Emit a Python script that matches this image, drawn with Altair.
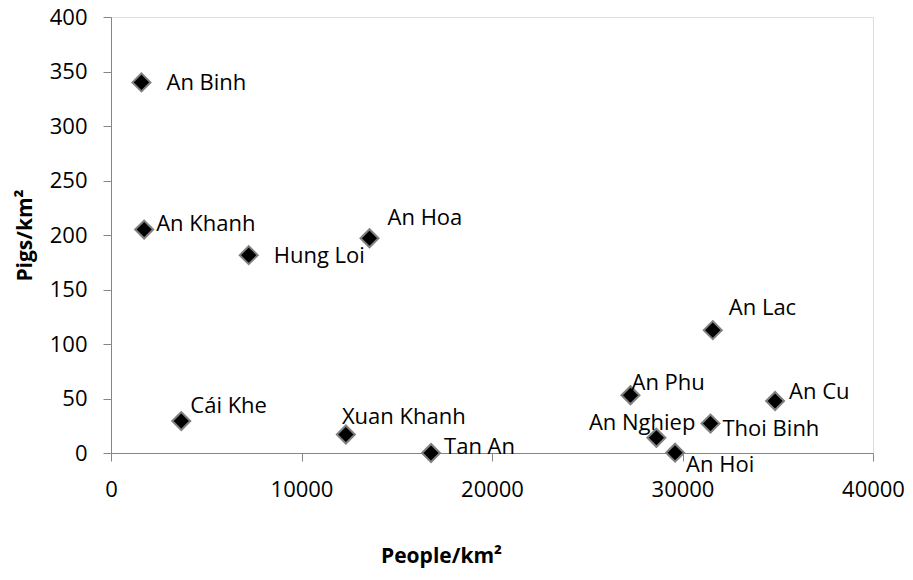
import altair as alt
import pandas as pd

# Data
names = ["An Binh", "An Khanh", "Hung Loi", "An Hoa", "Cái Khe", "Xuan Khanh",
         "Tan An", "An Phu", "An Nghiep", "An Hoi", "Thoi Binh", "An Lac", "An Cu"]
people = [1600, 1740, 7230, 13570, 3690, 12330, 16800, 27270, 28630, 29610,
          31470, 31590, 34860]
pigs = [340, 205, 181.5, 197, 29.3, 17, 0, 53, 14, 0.3, 27, 112.7, 47.7]

x_ticks = [0, 10000, 20000, 30000, 40000]
y_ticks = [0, 50, 100, 150, 200, 250, 300, 350, 400]

df = pd.DataFrame({"name": names, "people": people, "pigs": pigs})

# label placement (pixel offsets from marker, style only)
label_style = {
    "An Binh": (25, 1, "left"),
    "An Khanh": (12, -6, "left"),
    "Hung Loi": (25, 1, "left"),
    "An Hoa": (18, -20, "left"),
    "Cái Khe": (9, -15, "left"),
    "Xuan Khanh": (-4, -17, "left"),
    "Tan An": (13, -6, "left"),
    "An Phu": (1, -12, "left"),
    "An Nghiep": (39, -15, "right"),
    "An Hoi": (11, 12, "left"),
    "Thoi Binh": (12, 5, "left"),
    "An Lac": (16, -22, "left"),
    "An Cu": (14, -9, "left"),
}

FONT = "Open Sans"
GRAY = "#868686"

x_enc = alt.X("people:Q",
              scale=alt.Scale(domain=[0, 40000], nice=False),
              axis=alt.Axis(values=x_ticks, grid=False, title="People/km²",
                            domainColor=GRAY, tickColor=GRAY, tickSize=8,
                            labelPadding=18, labelFontSize=22, labelFont=FONT,
                            labelColor="#000000", format="d",
                            titleFont=FONT, titleFontSize=21, titleFontWeight="bold",
                            titleColor="#000000", titleX=330, titleY=103,
                            titleBaseline="middle", titleAlign="center",
                            labelFlush=False))
y_enc = alt.Y("pigs:Q",
              scale=alt.Scale(domain=[0, 400], nice=False),
              axis=alt.Axis(values=y_ticks, grid=False, title="Pigs/km²",
                            domainColor=GRAY, tickColor=GRAY, tickSize=8,
                            labelPadding=16, labelFontSize=22, labelFont=FONT,
                            labelColor="#000000",
                            titleFont=FONT, titleFontSize=21, titleFontWeight="bold",
                            titleColor="#000000", titleX=-86, titleY=218,
                            titleBaseline="middle", titleAlign="center",
                            titleAngle=270, labelFlush=False))

base = alt.Chart(df)

points = base.mark_point(shape="diamond", filled=True, size=324, fill="#000000",
                         stroke="#808080", strokeWidth=2, opacity=1).encode(
    x=x_enc, y=y_enc)

layers = [points]
for nm, (dx, dy, al) in label_style.items():
    layers.append(
        base.transform_filter(alt.datum.name == nm).mark_text(
            align=al, baseline="middle", dx=dx, dy=dy, font=FONT, fontSize=22,
            color="#000000").encode(x="people:Q", y="pigs:Q", text="name:N")
    )

chart = alt.layer(*layers).properties(
    width=762, height=436,
    autosize=alt.AutoSizeParams(type="none"),
    padding={"left": 103, "top": 9, "right": 32, "bottom": 115},
).configure_view(stroke=None).configure(background="#ffffff")

chart.save("out.html", embed_options={"renderer": "svg", "actions": False})
